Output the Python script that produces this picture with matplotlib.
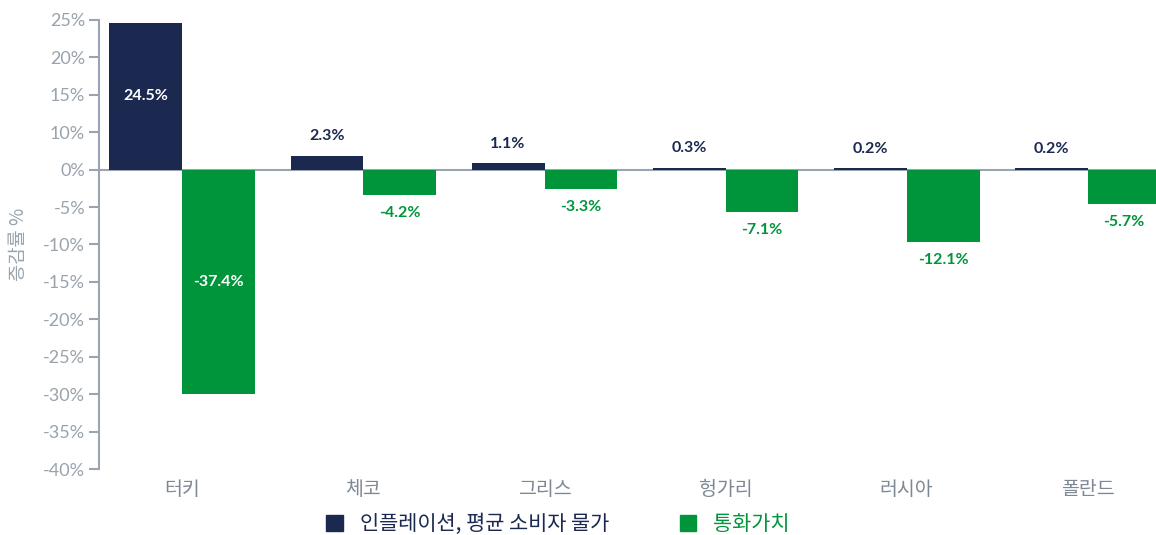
import numpy as np
import matplotlib
matplotlib.use('Agg')
import matplotlib.pyplot as plt
from matplotlib.patches import Patch

plt.rcParams['font.family'] = ['Lato', 'Noto Sans CJK KR', 'DejaVu Sans']

# 데이터
countries = ['터키', '체코', '그리스', '헝가리', '러시아', '폴란드']
inflation = [24.5, 2.3, 1.1, 0.3, 0.2, 0.2]
currency = [-37.4, -4.2, -3.3, -7.1, -12.1, -5.7]
series_names = ['인플레이션, 평균 소비자 물가', '통화가치']
# 원본 차트의 눈금 라벨 (5%가 빠져 있음)
ytick_labels = ['25%', '20%', '15%', '10%', '0%', '-5%', '-10%', '-15%',
                '-20%', '-25%', '-30%', '-35%', '-40%']

navy = '#1b2951'
green = '#00953b'
grey = '#9aa5b1'
text_grey = '#7d8894'

fig = plt.figure(figsize=(11.56, 5.35), dpi=100)
ax = fig.add_axes([99 / 1156, 1 - 469 / 535, 1 - 99 / 1156, (469 - 20) / 535])

x = np.arange(len(countries))
w = 0.403
ax.bar(x - w / 2, inflation, w, color=navy, label=series_names[0])
ax.bar(x + w / 2, currency, w, color=green, label=series_names[1])

ax.set_xlim(-0.461, 5.378)
ax.set_ylim(-50, 25)
ax.set_yticks(np.linspace(25, -50, len(ytick_labels)))
ax.set_yticklabels(ytick_labels)
ax.axhline(0, color=grey, lw=1.5, zorder=0)

for s in ['top', 'right', 'bottom']:
    ax.spines[s].set_visible(False)
ax.spines['left'].set_color(grey)
ax.spines['left'].set_linewidth(1.5)
ax.tick_params(axis='y', colors=grey, length=7, width=1.5, labelsize=13,
               pad=3, labelcolor='#98a3ae')
ax.tick_params(axis='x', length=0, pad=7)
ax.set_xticks(x)
ax.set_xticklabels(countries, fontsize=14, color=text_grey,
                   family=['Noto Sans CJK KR'])

ax.set_ylabel('증감률 %', fontsize=13.5, color='#98a3ae', family=['Noto Sans CJK KR'])
ax.yaxis.set_label_coords(-0.066, 0.5)

# 막대 라벨
for xi, v in zip(x, inflation):
    if v > 10:
        ax.text(xi - w / 2, v / 2, f'{v}%', ha='center', va='center',
                color='white', fontsize=11.5, fontweight='bold')
    else:
        ax.annotate(f'{v}%', (xi - w / 2, v), xytext=(0, 14), textcoords='offset points',
                    ha='center', va='center', color=navy, fontsize=11.5, fontweight='bold')
for xi, v in zip(x, currency):
    if v < -20:
        ax.text(xi + w / 2, v / 2, f'{v}%', ha='center', va='center',
                color='white', fontsize=11.5, fontweight='bold')
    else:
        ax.annotate(f'{v}%', (xi + w / 2, v), xytext=(0, -13), textcoords='offset points',
                    ha='center', va='center', color=green, fontsize=11.5, fontweight='bold')

handles = [Patch(color=navy), Patch(color=green)]
leg = fig.legend(handles, series_names, loc='center', bbox_to_anchor=(558 / 1156, 1 - 524 / 535),
                 ncol=2, frameon=False, handlelength=0.8, handleheight=0.8,
                 handletextpad=0.8, columnspacing=3.4,
                 prop={'family': ['Noto Sans CJK KR'], 'size': 15})
for t, c in zip(leg.get_texts(), [navy, green]):
    t.set_color(c)

fig.savefig('out.png', dpi=100)
